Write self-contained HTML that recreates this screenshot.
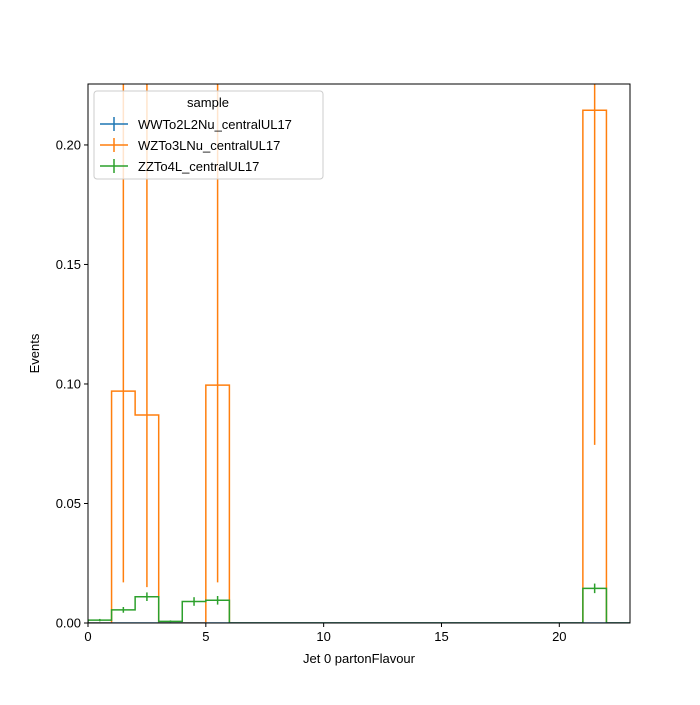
<!DOCTYPE html>
<html><head><meta charset="utf-8"><style>
body{margin:0;background:#fff}
svg{font-family:"Liberation Sans","DejaVu Sans",sans-serif}
</style></head><body>
<svg id="chart" width="700" height="700" viewBox="0 0 700 700" xmlns="http://www.w3.org/2000/svg">
<rect width="700" height="700" fill="#fff"/>
<g id="plot"></g>
<g id="axes"></g>
<g id="legend"></g>
</svg>
<script>
const binEdges = [0,1,2,3,4,5,6,7,8,9,10,11,12,13,14,15,16,17,18,19,20,21,22,23];
const wwValues = [0,0,0,0,0,0,0,0,0,0,0,0,0,0,0,0,0,0,0,0,0,0,0];
const wzValues = [0,0.097,0.087,0,0,0.0995,0,0,0,0,0,0,0,0,0,0,0,0,0,0,0,0.2145,0];
const wzErrLow = [0,0.080,0.072,0,0,0.0825,0,0,0,0,0,0,0,0,0,0,0,0,0,0,0,0.140,0];
const wzErrHigh = [0,0.20,0.20,0,0,0.20,0,0,0,0,0,0,0,0,0,0,0,0,0,0,0,0.25,0];
const zzValues = [0.0012,0.0055,0.011,0.0007,0.009,0.0095,0,0,0,0,0,0,0,0,0,0,0,0,0,0,0,0.0145,0];
const zzErrors = [0.0005,0.0012,0.0018,0.0004,0.0018,0.0018,0,0,0,0,0,0,0,0,0,0,0,0,0,0,0,0.002,0];
const xTicks = [0,5,10,15,20];
const yTicks = [0,0.05,0.10,0.15,0.20];
const yTickLabels = ["0.00","0.05","0.10","0.15","0.20"];
const seriesNames = ["WWTo2L2Nu_centralUL17","WZTo3LNu_centralUL17","ZZTo4L_centralUL17"];
const colors = ["#1f77b4","#ff7f0e","#2ca02c"];

const L=88,R=630,T=84,B=623,XMAX=23,YMAX=0.2255;
const X=v=>L+(R-L)*v/XMAX;
const Y=v=>B-(B-T)*v/YMAX;
const NS="http://www.w3.org/2000/svg";
function mk(tag,attrs,parent){const e=document.createElementNS(NS,tag);for(const k in attrs)e.setAttribute(k,attrs[k]);parent.appendChild(e);return e;}
const plot=document.getElementById('plot'),axes=document.getElementById('axes'),legend=document.getElementById('legend');
const cp=mk('clipPath',{id:'clip'},plot);
mk('rect',{x:L,y:T,width:R-L,height:B-T},cp);
const g=mk('g',{'clip-path':'url(#clip)'},plot);
function step(vals,lo,hi,color,name){
  let d=`M${X(binEdges[0])},${Y(0)}`;
  vals.forEach((v,i)=>{d+=` L${X(binEdges[i])},${Y(v)} L${X(binEdges[i+1])},${Y(v)}`;});
  d+=` L${X(binEdges[binEdges.length-1])},${Y(0)}`;
  const p=mk('path',{d:d,fill:'none',stroke:color,'stroke-width':1.5},g);
  
  
  if(lo){vals.forEach((v,i)=>{if(v<=0)return;const cx=(X(binEdges[i])+X(binEdges[i+1]))/2;
    const e=mk('line',{x1:cx,x2:cx,y1:Y(v-lo[i]),y2:Y(v+hi[i]),stroke:color,'stroke-width':1.5},g);
    
    
  });}
}
step(wzValues,wzErrLow,wzErrHigh,colors[1],'wz');
step(zzValues,zzErrors,zzErrors,colors[2],'zz');
step(wwValues,null,null,colors[0],'ww');
mk('rect',{x:L,y:T,width:R-L,height:B-T,fill:'none',stroke:'#000','stroke-width':1},axes);
xTicks.forEach(t=>{mk('line',{x1:X(t),x2:X(t),y1:B,y2:B+4,stroke:'#000'},axes);
  const tx=mk('text',{x:X(t),y:B+18,'text-anchor':'middle','font-size':13},axes);tx.textContent=t;
  
  });
yTicks.forEach((t,i)=>{mk('line',{x1:L-4,x2:L,y1:Y(t),y2:Y(t),stroke:'#000'},axes);
  const tx=mk('text',{x:L-7,y:Y(t)+4.5,'text-anchor':'end','font-size':13},axes);tx.textContent=yTickLabels[i];
  
  });
let xt=mk('text',{x:(L+R)/2,y:663,'text-anchor':'middle','font-size':13},axes);xt.textContent='Jet 0 partonFlavour';


let yt=mk('text',{x:0,y:0,transform:`translate(39,${(T+B)/2}) rotate(-90)`,'text-anchor':'middle','font-size':13},axes);yt.textContent='Events';


mk('rect',{x:94,y:91,width:229,height:88,rx:3,fill:'#fff','fill-opacity':0.8,stroke:'#ccc'},legend);
let lt=mk('text',{x:208,y:107,'text-anchor':'middle','font-size':13},legend);lt.textContent='sample';


seriesNames.forEach((n,i)=>{const y=124+i*21;
  mk('line',{x1:100,x2:128,y1:y,y2:y,stroke:colors[i],'stroke-width':1.5},legend);
  mk('line',{x1:114,x2:114,y1:y-7,y2:y+7,stroke:colors[i],'stroke-width':1.5},legend);
  const t=mk('text',{x:138,y:y+5,'font-size':13},legend);t.textContent=n;
  
  });
</script>
</body></html>
